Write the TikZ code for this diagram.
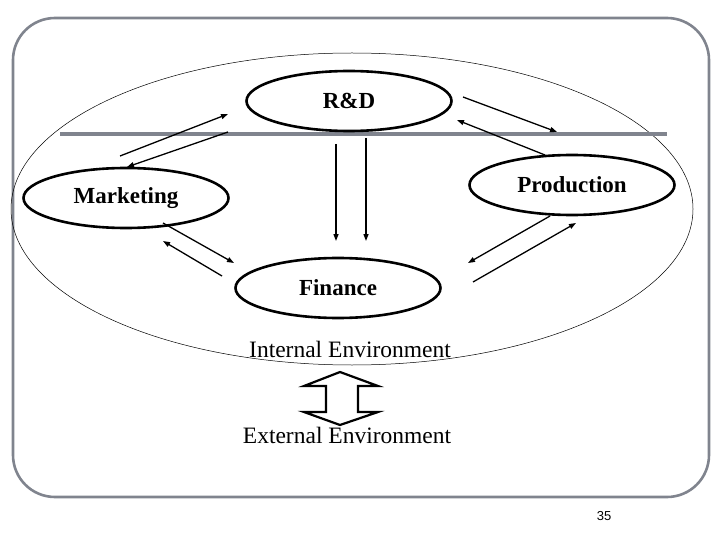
\documentclass[tikz,border=0pt]{standalone}
\usepackage{fontspec}
\setmainfont{Liberation Serif}
\newfontfamily\numfont{Liberation Sans}
\usetikzlibrary{shapes.geometric,arrows.meta}
\definecolor{framegray}{RGB}{128,132,142}
\tikzset{
  unit/.style={x=1pt,y=-1pt},
  dept/.style={ellipse, draw=black, line width=2.6pt, minimum width=205pt, minimum height=60pt, inner sep=0pt, font=\fontsize{23}{27}\selectfont\bfseries},
  flow/.style={line width=1.3pt, -{Triangle[length=7pt,width=5pt]}},
  envtext/.style={font=\fontsize{23.5}{27}\selectfont, inner sep=0pt},
}
\begin{document}
\begin{tikzpicture}[unit]
\useasboundingbox (0,0) rectangle (720,540);
% frame
\draw[framegray, line width=2.6pt, rounded corners=42pt] (13,18) rectangle (709,497);
% big ellipse
\draw[black, line width=0.5pt] (352,209) ellipse [x radius=341pt, y radius=156pt];
% gray line
\coordinate (gl) at (60,134);
\coordinate (gr) at (667,134);
\draw[framegray, line width=3.5pt] (gl) -- (gr);
% department ellipses
\node[dept, fill=white] (rd) at (349,101) {R\&D};
\node[dept] (mk) at (126,198) {Marketing};
\node[dept] (pr) at (572,185) {Production};
\node[dept] (fi) at (338,288) {Finance};
% arrow end points
\coordinate (a1) at (120,156); \coordinate (a2) at (228,114);
\coordinate (b1) at (228,132); \coordinate (b2) at (127,167);
\coordinate (c1) at (463,97);  \coordinate (c2) at (557,132);
\coordinate (d1) at (545,155); \coordinate (d2) at (457,120);
\coordinate (e1) at (163,223); \coordinate (e2) at (234,263);
\coordinate (f1) at (222,276); \coordinate (f2) at (163,241);
\coordinate (g1) at (550,216); \coordinate (g2) at (468,263);
\coordinate (h1) at (473,282); \coordinate (h2) at (576,223);
\coordinate (v1) at (336,144); \coordinate (v2) at (336,241);
\coordinate (w1) at (366,138); \coordinate (w2) at (366,241);
\draw[flow] (a1) -- (a2);
\draw[flow] (b1) -- (b2);
\draw[flow] (c1) -- (c2);
\draw[flow] (d1) -- (d2);
\draw[flow] (e1) -- (e2);
\draw[flow] (f1) -- (f2);
\draw[flow] (g1) -- (g2);
\draw[flow] (h1) -- (h2);
\draw[flow] (v1) -- (v2);
\draw[flow] (w1) -- (w2);
% environment labels
\node[envtext, anchor=base] (int) at (350,357) {Internal Environment};
\node[envtext, anchor=base] (ext) at (347,443) {External Environment};
% block double arrow
\draw[black, line width=2.2pt, fill=white, line join=miter]
  (340,372) -- (378,386) -- (358,386) -- (358,412) -- (378,412) -- (340,425)
  -- (304,412) -- (326,412) -- (326,386) -- (304,386) -- cycle;
% page number
\node[font=\numfont\fontsize{13}{15}\selectfont, inner sep=0pt] (pg) at (604,516) {35};
\end{tikzpicture}
\end{document}
